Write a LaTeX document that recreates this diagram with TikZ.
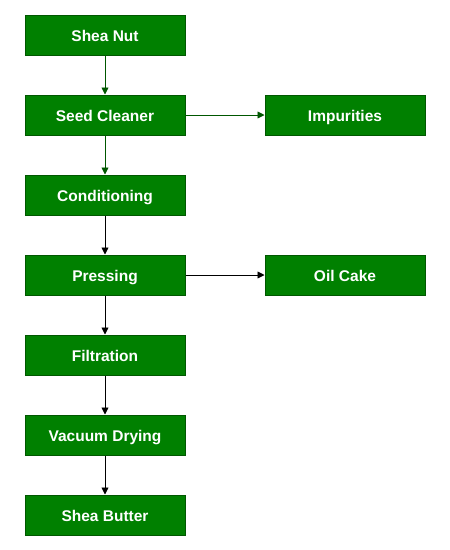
\documentclass[tikz,border=0pt]{standalone}
\usepackage{fontspec}
\setmainfont{Liberation Sans}
\usetikzlibrary{arrows.meta}
\definecolor{boxgreen}{HTML}{008000}
\definecolor{boxline}{HTML}{005700}
\begin{document}
\begin{tikzpicture}[x=1pt,y=-1pt,
  stepbox/.style={draw=boxline,fill=boxgreen,line width=1pt,minimum width=160pt,minimum height=40pt,inner sep=0pt,
    text height=12.5pt,text depth=0pt,
    text=white,font=\fontsize{15.5}{18}\selectfont\bfseries},
  flow/.style={-{Triangle[length=7pt,width=7pt]},line width=0.9pt},
  gflow/.style={flow,draw=boxline,fill=boxline}]
\useasboundingbox (0,0) rectangle (450,550);
\node[stepbox] (nut) at (105,35) {Shea Nut};
\node[stepbox] (clean) at (105,115) {Seed Cleaner};
\node[stepbox] (imp) at (345,115) {Impurities};
\node[stepbox] (cond) at (105,195) {Conditioning};
\node[stepbox] (press) at (105,275) {Pressing};
\node[stepbox] (cake) at (345,275) {Oil Cake};
\node[stepbox] (filt) at (105,355) {Filtration};
\node[stepbox] (dry) at (105,435) {Vacuum Drying};
\node[stepbox] (butter) at (105,515) {Shea Butter};
\draw[gflow] (nut) -- (clean);
\draw[gflow] (clean) -- (imp);
\draw[gflow] (clean) -- (cond);
\draw[flow] (cond) -- (press);
\draw[flow] (press) -- (cake);
\draw[flow] (press) -- (filt);
\draw[flow] (filt) -- (dry);
\draw[flow] (dry) -- (butter);
\end{tikzpicture}
\end{document}
